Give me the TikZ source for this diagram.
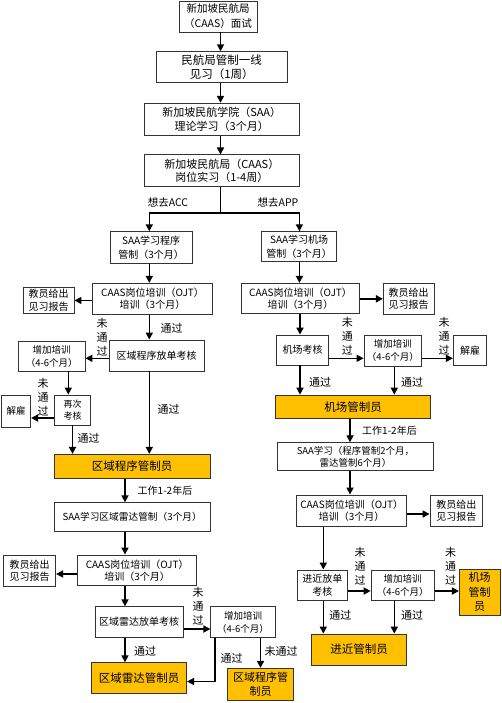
\documentclass[tikz,border=0pt]{standalone}
\usepackage{fontspec}
\setmainfont{Noto Sans CJK SC}
\usetikzlibrary{arrows.meta}
\definecolor{goldfill}{HTML}{FFC000}
\tikzset{
  fs/.style 2 args={font=\fontsize{#1pt}{#2pt}\selectfont},
  box/.style={draw=black!80, line width=0.8pt, fill=white, align=center, inner sep=0pt},
  gold/.style={box, fill=goldfill},
  bx/.style 2 args={minimum width=#1pt, minimum height=#2pt},
  arr/.style={line width=1.6pt, -{Triangle[length=7pt,width=7pt]}},
  plain/.style={line width=1.6pt},
  lbl/.style={inner sep=0pt, align=center, fs={11}{14}},
}
\begin{document}
\begin{tikzpicture}[x=1pt,y=-1pt]
\useasboundingbox[fill=white] (0,0) rectangle (501,703);
% column coordinates
\coordinate (xc) at (220.5,0);
\coordinate (xa) at (149.3,0);
\coordinate (xb) at (299.4,0);
\coordinate (xd) at (125,0);
\coordinate (br) at (220.5,213);

% top boxes
\node[box, bx={78}{31}, fs={10.5}{15}] (n1) at (218,16.5) {新加坡民航局\\（CAAS）面试};
\node[box, bx={131}{31}, fs={11.5}{14}] (n2) at (221.7,67.2) {民航局管制一线\\见习（1周）};
\node[box, bx={155}{32}, fs={11}{14.3}] (n3) at (221.7,119.2) {新加坡民航学院（SAA）\\理论学习（3个月）};
\node[box, bx={155}{32}, fs={11}{13.3}] (n4) at (221.8,170.9) {新加坡民航局（CAAS）\\岗位实习（1-4周）};

% left column
\node[box, bx={82.3}{31.6}, fs={10}{14}] (a1) at (151.2,247.5) {SAA学习程序\\管制（3个月）};
\node[box, bx={119.6}{31}, fs={10}{12}] (a2) at (152.5,298.8) {CAAS岗位培训（OJT）\\培训（3个月）};
\node[box, bx={50.7}{25.6}, fs={10}{12.7}] (a3) at (48.7,300.5) {教员给出\\见习报告};
\node[box, bx={94.7}{31}, fs={10}{12}] (a4) at (156.7,355.5) {区域程序放单考核};
\node[box, bx={66.7}{30}, fs={9.5}{13}] (a5) at (51.7,356) {增加培训\\（4-6个月）};
\node[box, bx={36.4}{30}, fs={9}{12.7}] (a6) at (72.5,410) {再次\\考核};
\node[box, bx={29}{32}, fs={9.5}{12}] (a7) at (16.2,411) {解雇};
\node[gold, bx={155.7}{24}, fs={11.5}{14}] (a8) at (132.2,466.3) {区域程序管制员};
\node[box, bx={155.7}{29}, fs={9.7}{12}] (a9) at (132.2,517.2) {SAA学习区域雷达管制（3个月）};
\node[box, bx={119}{30.7}, fs={10}{12}] (a10) at (137.2,570.3) {CAAS岗位培训（OJT）\\培训（3个月）};
\node[box, bx={52.4}{30.3}, fs={10}{12.7}] (a11) at (29.5,570.8) {教员给出\\见习报告};
\node[box, bx={88.3}{30.6}, fs={10}{12}] (a12) at (139.2,622) {区域雷达放单考核};
\node[box, bx={64.3}{30.6}, fs={9.5}{13}] (a13) at (243,622) {增加培训\\（4-6个月）};
\node[gold, bx={95}{30.6}, fs={11.5}{14}] (a14) at (139.2,678) {区域雷达管制员};
\node[gold, bx={65.6}{32.4}, fs={11}{14}] (a15) at (260.5,684.5) {区域程序管\\制员};

% right column
\node[box, bx={75}{30}, fs={10}{14}] (b1) at (299.2,246.7) {SAA学习机场\\管制（3个月）};
\node[box, bx={117.6}{30}, fs={10}{12}] (b2) at (300.5,298.3) {CAAS岗位培训（OJT）\\培训（3个月）};
\node[box, bx={50.7}{31}, fs={10}{12.7}] (b3) at (408.7,298.8) {教员给出\\见习报告};
\node[box, bx={51.6}{30}, fs={10}{12}] (b4) at (302.5,350) {机场考核};
\node[box, bx={57.7}{31.7}, fs={9.5}{13}] (b5) at (392.9,350.8) {增加培训\\（4-6个月）};
\node[box, bx={33.4}{30.7}, fs={10}{12}] (b6) at (470,350.3) {解雇};
\node[gold, bx={155}{23.3}, fs={11.5}{14}] (b7) at (353.2,406.7) {机场管制员};
\node[box, bx={155.6}{28}, fs={9.5}{11.7}] (b8) at (355.5,456.7) {SAA学习（程序管制2个月，\\雷达管制6个月）};
\node[box, bx={110}{31.7}, fs={10}{12}] (b9) at (351.7,510.8) {CAAS岗位培训（OJT）\\培训（3个月）};
\node[box, bx={52.7}{31.7}, fs={10}{12.7}] (b10) at (456.3,510.8) {教员给出\\见习报告};
\node[box, bx={50}{30.7}, fs={10}{13}] (b11) at (322.3,585.3) {进近放单\\考核};
\node[box, bx={63.3}{30.7}, fs={9.5}{13}] (b12) at (402.7,585.3) {增加培训\\（4-6个月）};
\node[gold, bx={40.7}{46}, fs={11}{14.2}] (b13) at (479.7,592) {机场\\管制\\员};
\node[gold, bx={95}{31}, fs={11.5}{14}] (b14) at (359.2,649.5) {进近管制员};

% labels
\node[lbl, fs={10.5}{12}] (lacc) at (168,202) {想去ACC};
\node[lbl, fs={10.5}{12}] (lapp) at (278,202) {想去APP};
\node[lbl] (l1) at (102,337) {未\\通\\过};
\node[lbl] (l2) at (171.5,328) {通过};
\node[lbl] (l3) at (43,397.5) {未\\通\\过};
\node[lbl] (l4) at (88.5,438) {通过};
\node[lbl] (l5) at (168.5,409) {通过};
\node[lbl, fs={10}{12}] (l6) at (165,490.7) {工作1-2年后};
\node[lbl] (l7) at (198,606) {未\\通\\过};
\node[lbl] (l8) at (145,651.7) {通过};
\node[lbl] (l9) at (231.5,658) {通过};
\node[lbl] (l10) at (281,651.5) {未通过};
\node[lbl] (r1) at (347.3,336) {未\\通\\过};
\node[lbl] (r2) at (444,336) {未\\通\\过};
\node[lbl] (r3) at (320,382.3) {通过};
\node[lbl] (r4) at (412,382.3) {通过};
\node[lbl, fs={10}{12}] (r5) at (389.5,430.7) {工作1-2年后};
\node[lbl] (r6) at (360,566) {未\\通\\过};
\node[lbl] (r7) at (450.7,566) {未\\通\\过};
\node[lbl] (r8) at (340.3,615) {通过};
\node[lbl] (r9) at (412,615) {通过};

% helper coordinates
\coordinate (y358) at (0,358.3);
\coordinate (y418) at (0,418);
\coordinate (y574) at (0,574);
\coordinate (y629) at (0,629);
\coordinate (y514) at (0,514);
\coordinate (y591) at (0,591);
\coordinate (x68) at (68.3,0);
\coordinate (x300) at (300,0);
\coordinate (x394) at (394.3,0);
\coordinate (x350) at (350,0);
\coordinate (x323) at (323.3,0);
\coordinate (k) at (215,681.5);

% top arrows
\draw[arr] (n1.south -| xc) -- (n2.north -| xc);
\draw[arr] (n2.south -| xc) -- (n3.north -| xc);
\draw[arr] (n3.south -| xc) -- (n4.north -| xc);
\draw[plain] (n4.south -| xc) -- (br);
\draw[arr] (br) -| (a1.north -| xa);
\draw[arr] (br) -| (b1.north -| xb);

% left arrows
\draw[arr] (a1.south -| xa) -- (a2.north -| xa);
\draw[arr] (a2.west |- a3) -- (a3.east);
\draw[arr] (a2.south -| xa) -- (a4.north -| xa);
\draw[arr] (a4.west |- y358) -- (a5.east |- y358);
\draw[arr] (a5.south -| x68) -- (a6.north -| x68);
\draw[arr] (a6.west |- y418) -- (a7.east |- y418);
\draw[arr] (a6.south) -- (a6.south |- a8.north);
\draw[arr] (a4.south -| xa) -- (a8.north -| xa);
\draw[arr] (a8.south -| xd) -- (a9.north -| xd);
\draw[arr] (a9.south -| xd) -- (a10.north -| xd);
\draw[arr] (a10.west |- y574) -- (a11.east |- y574);
\draw[arr] (a10.south -| xd) -- (a12.north -| xd);
\draw[arr] (a12.east |- y629) -- (a13.west |- y629);
\draw[arr] (a12.south -| xd) -- (a14.north -| xd);
\draw[arr] (a13.south -| k) -- (k) -- (a14.east |- k);
\draw[arr] (a13.south -| a15) -- (a15.north);

% right arrows
\draw[arr] (b1.south -| xb) -- (b2.north -| xb);
\draw[arr] (b2.east |- b3) -- (b3.west);
\draw[arr] (b2.south -| x300) -- (b4.north -| x300);
\draw[arr] (b4.east |- y358) -- (b5.west |- y358);
\draw[arr] (b5.east |- y358) -- (b6.west |- y358);
\draw[arr] (b4.south -| x300) -- (b7.north -| x300);
\draw[arr] (b5.south -| x394) -- (b7.north -| x394);
\draw[arr] (b7.south -| x350) -- (b8.north -| x350);
\draw[arr] (b8.south -| x350) -- (b9.north -| x350);
\draw[arr] (b9.east |- y514) -- (b10.west |- y514);
\draw[arr] (b9.south -| x323) -- (b11.north -| x323);
\draw[arr] (b11.east |- y591) -- (b12.west |- y591);
\draw[arr] (b12.east |- y591) -- (b13.west |- y591);
\draw[arr] (b11.south -| x323) -- (b14.north -| x323);
\draw[arr] (b12.south -| x394) -- (b14.north -| x394);
\end{tikzpicture}
\end{document}
